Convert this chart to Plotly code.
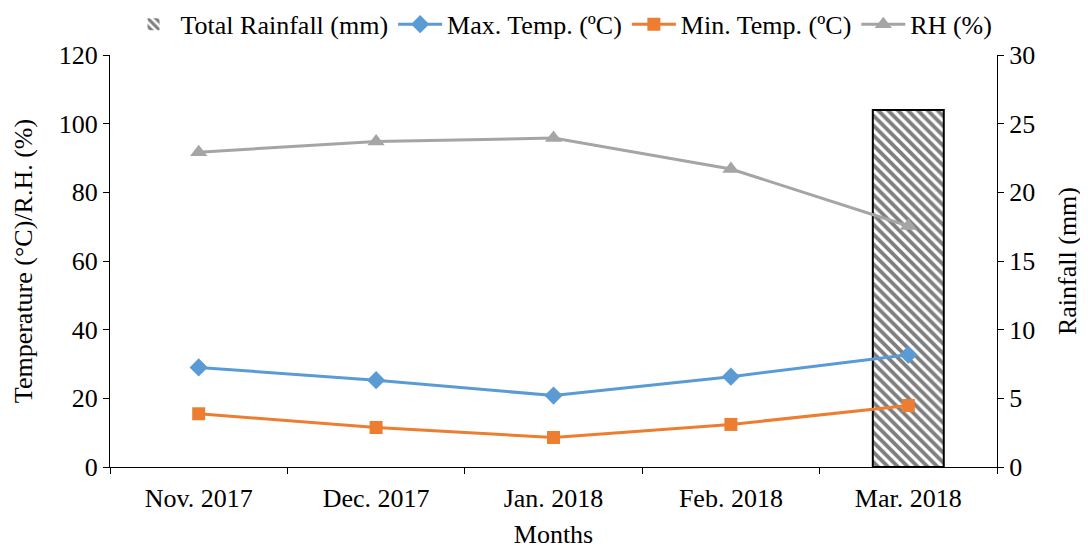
import plotly.graph_objects as go

months = ["Nov. 2017", "Dec. 2017", "Jan. 2018", "Feb. 2018", "Mar. 2018"]
rainfall = [0, 0, 0, 0, 26.0]
max_temp = [29.0, 25.3, 20.8, 26.3, 32.7]
min_temp = [15.5, 11.5, 8.6, 12.4, 17.9]
rh = [91.7, 94.8, 95.8, 86.8, 70.2]

FONT = "Liberation Serif, Times New Roman, serif"
FS = 26

fig = go.Figure()
# Bars on primary axis (right side) so lines on the overlaying axis draw above them
fig.add_trace(go.Bar(
    x=months, y=rainfall, name="Total Rainfall (mm)", yaxis="y",
    marker=dict(color="white",
                line=dict(color="black", width=[0 if v == 0 else 2 for v in rainfall]),
                pattern=dict(shape="\\", fgcolor="black", bgcolor="white", size=7, solidity=0.55)),
    width=0.4,
))
fig.add_trace(go.Scatter(
    x=months, y=max_temp, name="Max. Temp. (ºC)", mode="lines+markers", yaxis="y2",
    line=dict(color="#5B9BD5", width=3), marker=dict(symbol="diamond", size=14, color="#5B9BD5"),
))
fig.add_trace(go.Scatter(
    x=months, y=min_temp, name="Min. Temp. (ºC)", mode="lines+markers", yaxis="y2",
    line=dict(color="#ED7D31", width=3), marker=dict(symbol="square", size=13, color="#ED7D31"),
))
fig.add_trace(go.Scatter(
    x=months, y=rh, name="RH (%)", mode="lines+markers", yaxis="y2",
    line=dict(color="#A5A5A5", width=3), marker=dict(symbol="triangle-up", size=15, color="#A5A5A5"),
))

fig.update_layout(
    width=1080, height=541,
    margin=dict(l=102, r=91, t=47, b=82),
    paper_bgcolor="white", plot_bgcolor="white",
    font=dict(family=FONT, size=FS, color="black"),
    showlegend=True,
    legend=dict(orientation="h", x=0.513, xref="container", xanchor="center",
                y=0.97, yref="container", yanchor="middle",
                font=dict(size=FS), traceorder="normal", itemwidth=44),
    xaxis=dict(
        title=dict(text="Months", font=dict(size=FS), standoff=19),
        showline=True, linecolor="black", linewidth=1,
        ticks="outside", ticklen=6, tickcolor="black", ticklabelstandoff=8,
        tickson="boundaries", showgrid=False, zeroline=False,
        range=[-0.5, 4.5], automargin=False,
    ),
    yaxis=dict(
        title=dict(text="Rainfall (mm)", font=dict(size=FS), standoff=23),
        range=[0, 30], dtick=5, side="right",
        showline=True, linecolor="black", linewidth=1,
        ticks="outside", ticklen=6, tickcolor="black",
        showgrid=False, zeroline=False, automargin=False,
    ),
    yaxis2=dict(
        title=dict(text="Temperature (°C)/R.H. (%)", font=dict(size=FS), standoff=18),
        range=[0, 120], dtick=20, side="left", overlaying="y",
        showline=True, linecolor="black", linewidth=1,
        ticks="outside", ticklen=6, tickcolor="black",
        showgrid=False, zeroline=False, automargin=False,
    ),
)

fig.write_html("out.html")
